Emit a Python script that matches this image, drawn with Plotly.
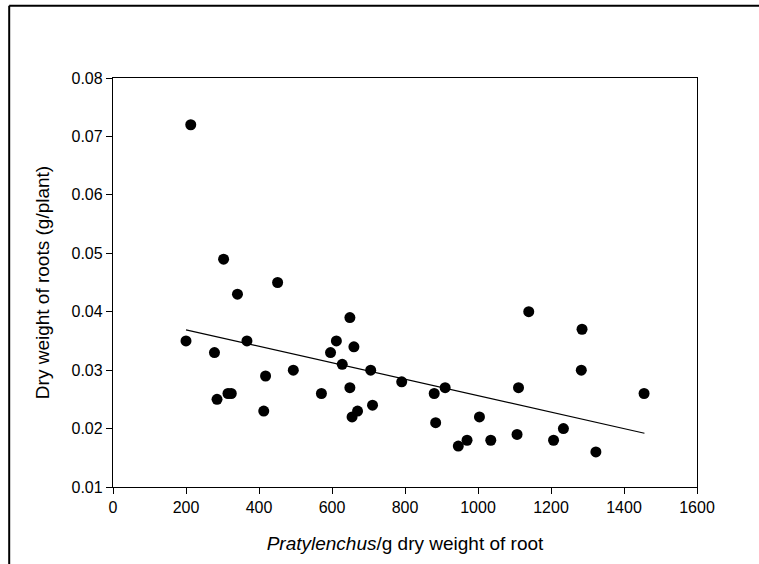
import plotly.graph_objects as go

# Data
nematodes = [213, 303, 341, 451, 649, 200, 367, 612, 278, 596, 660, 628, 706, 494,
             791, 418, 649, 285, 315, 324, 571, 711, 413, 670, 655,
             1139, 1285, 1283, 1111, 910, 880, 1455, 884, 1004, 1234, 946, 970,
             1035, 1107, 1207, 1323]
root_weight = [0.072, 0.049, 0.043, 0.045, 0.039, 0.035, 0.035, 0.035, 0.033, 0.033,
               0.034, 0.031, 0.030, 0.030, 0.028, 0.029, 0.027, 0.025, 0.026, 0.026,
               0.026, 0.024, 0.023, 0.023, 0.022,
               0.040, 0.037, 0.030, 0.027, 0.027, 0.026, 0.026, 0.021, 0.022, 0.020,
               0.017, 0.018, 0.018, 0.019, 0.018, 0.016]
trend_x = [200, 1456]
trend_y = [0.0369, 0.0192]

x_ticks = [0, 200, 400, 600, 800, 1000, 1200, 1400, 1600]
y_ticks = [0.01, 0.02, 0.03, 0.04, 0.05, 0.06, 0.07, 0.08]

FONT = "Liberation Sans, Arial, sans-serif"

fig = go.Figure()
fig.add_trace(go.Scatter(x=nematodes, y=root_weight, mode="markers",
                         marker=dict(color="black", size=11, line=dict(width=0)),
                         showlegend=False))
fig.add_trace(go.Scatter(x=trend_x, y=trend_y, mode="lines",
                         line=dict(color="black", width=1.2), showlegend=False))

L, R, T, B = 113.3, 61.7, 78.3, 77
W, H = 759, 564
pw, ph = W - L - R, H - T - B

fig.update_layout(
    width=W, height=H,
    margin=dict(l=L, r=R, t=T, b=B, pad=0),
    paper_bgcolor="white", plot_bgcolor="white",
    font=dict(family=FONT, color="black", size=16),
    xaxis=dict(range=[0, 1600], tickvals=x_ticks, ticks="outside", ticklen=6,
               tickwidth=1, tickcolor="black", showline=True, linecolor="black",
               linewidth=1.3, mirror=True, showgrid=False, zeroline=False,
               tickfont=dict(size=16),
               title=dict(text="<i>Pratylenchus</i>/g dry weight of root",
                          font=dict(size=19), standoff=21)),
    yaxis=dict(range=[0.01, 0.08], tickvals=y_ticks, tickformat=".2f",
               ticks="outside", ticklen=6, tickwidth=1, tickcolor="black",
               showline=True, linecolor="black", linewidth=1.3, mirror=True,
               showgrid=False, zeroline=False, tickfont=dict(size=16),
               title=dict(text="Dry weight of roots (g/plant)",
                          font=dict(size=19), standoff=16)),
)

# outer frame (top and left edges of the cropped figure border)
x_left = (9.5 - L) / pw
y_top = (H - B - 6) / ph
y_bot = (H - B - H - 5) / ph
x_right = (W + 5 - L) / pw
fig.add_shape(type="line", xref="paper", yref="paper", x0=x_left, x1=x_left,
              y0=y_bot, y1=y_top, line=dict(color="black", width=2))
fig.add_shape(type="line", xref="paper", yref="paper", x0=x_left, x1=x_right,
              y0=y_top, y1=y_top, line=dict(color="black", width=2))

fig.write_html("out.html")
